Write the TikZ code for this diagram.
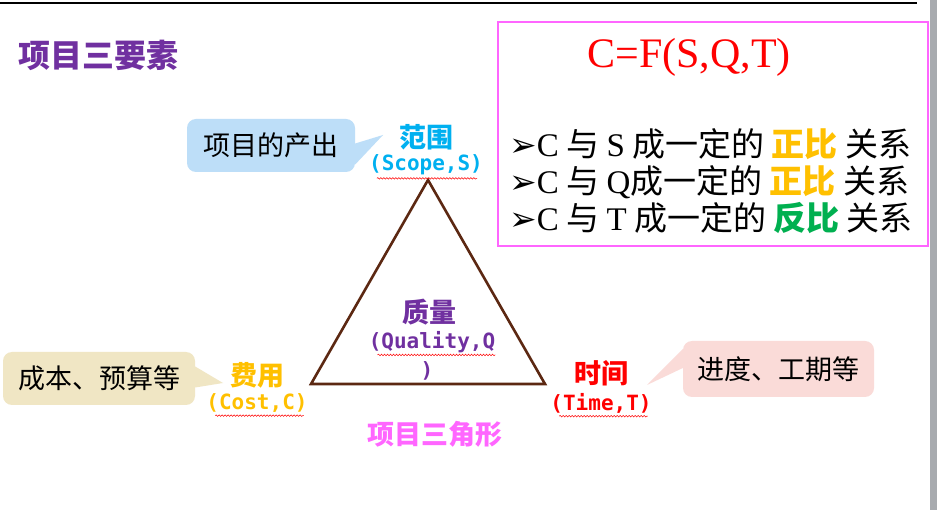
\documentclass[tikz,border=0pt]{standalone}
\usepackage{fontspec}
\setmainfont{Noto Sans CJK SC}
\newfontfamily\tms{Liberation Serif}
\newfontfamily\mono{DejaVu Sans Mono}
\newfontfamily\dejavu{DejaVu Sans}
\usetikzlibrary{positioning,calc,decorations.pathmorphing}
\definecolor{elempurple}{RGB}{112,48,160}
\definecolor{elemcyan}{RGB}{0,176,240}
\definecolor{elemorange}{RGB}{255,192,0}
\definecolor{elemgreen}{RGB}{0,176,80}
\definecolor{elempink}{RGB}{255,102,255}
\definecolor{tribrown}{RGB}{92,40,18}
\definecolor{bubbleblue}{RGB}{189,222,248}
\definecolor{bubblesand}{RGB}{240,230,196}
\definecolor{bubblerose}{RGB}{250,219,216}
\definecolor{scrollgray}{RGB}{168,171,175}

\begin{document}
\begin{tikzpicture}[x=1pt,y=-1pt,
 elem/.style={inner sep=0pt,font=\fontsize{27}{31}\selectfont\bfseries},
 sub/.style={inner sep=0pt,font=\fontsize{21}{24}\mono\bfseries},
 bubble/.style={rounded corners=9pt,inner sep=0pt,minimum height=53pt,
  font=\fontsize{27}{31}\selectfont},
 bullet/.style={anchor=base west,inner sep=0pt,font=\fontsize{33}{37}\selectfont},
 wavy/.style={red,line width=0.5pt,decorate,
  decoration={snake,amplitude=0.8pt,segment length=3pt}}]
 \useasboundingbox (0,0) rectangle (937,510);
 \fill[white] (0,0) rectangle (937,510);
 \fill[scrollgray] (930,0) rectangle (937,510);
 \draw[line width=1.5pt] (0,3) -- (917,3);

 \node[anchor=west,text=elempurple,font=\fontsize{32}{36}\selectfont\bfseries]
  (title) at (15,55) {项目三要素};

 % formula box
 \draw[elempink,line width=2pt] (498,22) rectangle (928,246);
 \node[anchor=base,text=red,inner sep=0pt,font=\fontsize{42}{46}\tms]
  (F) at (689,68) {C=F(S,Q,T)};
 \node[bullet] (r1) at (509,157) {{\dejavu ➢}{\tms C} 与 {\tms S} 成一定的 \textcolor{elemorange}{\bfseries 正比} 关系};
 \node[bullet] (r2) at (509,194) {{\dejavu ➢}{\tms C} 与 {\tms Q}成一定的 \textcolor{elemorange}{\bfseries 正比} 关系};
 \node[bullet] (r3) at (509,231) {{\dejavu ➢}{\tms C} 与 {\tms T} 成一定的 \textcolor{elemgreen}{\bfseries 反比} 关系};

 % triangle
 \coordinate (top) at (428,180);
 \coordinate (bl) at (311,384);
 \coordinate (br) at (545,384);
 \draw[tribrown,line width=2.6pt,line join=miter] (top) -- (bl) -- (br) -- cycle;

 \node[elem,text=elemcyan] (S) at (426,137) {范围};
 \node[sub,text=elemcyan] (Sl) at (426,165) {(Scope,S)};
 \node[elem,text=elempurple] (Q) at (429,312) {质量};
 \node[sub,text=elempurple] (Ql) at (432,342) {(Quality,Q};
 \node[sub,text=elempurple] (Qr) at (427,371) {)};
 \node[elem,text=elemorange] (C) at (257,375) {费用};
 \node[sub,text=elemorange] (Cl) at (257,403) {(Cost,C)};
 \node[elem,text=red] (T) at (601,373) {时间};
 \node[sub,text=red] (Tl) at (601,403) {(Time,T)};
 \node[elem,text=elempink] (name) at (435,434) {项目三角形};

 \draw[wavy] ([xshift=8pt,yshift=-3pt]Sl.south west) -- ([xshift=-6pt,yshift=-3pt]Sl.south east);
 \draw[wavy] ([xshift=9pt,yshift=-2pt]Ql.south west) -- ([yshift=-2pt]Ql.south east);
 \draw[wavy] ([xshift=9pt,yshift=-3pt]Cl.south west) -- ([xshift=-4pt,yshift=-3pt]Cl.south east);
 \draw[wavy] ([xshift=9pt,yshift=-3pt]Tl.south west) -- ([xshift=-4pt,yshift=-3pt]Tl.south east);

 % callouts
 \node[bubble,fill=bubbleblue,minimum width=168pt] (A) at (271,145.5) {项目的产出};
 \fill[bubbleblue] ([yshift=-19pt]A.east) -- (383,135) -- ([yshift=2pt]A.east) -- cycle;
 \node[bubble,fill=bubblesand,minimum width=192pt] (B) at (99,378.5) {成本、预算等};
 \fill[bubblesand] ([yshift=-9pt]B.east) -- (223,383) -- ([yshift=12pt]B.east) -- cycle;
 \node[bubble,fill=bubblerose,minimum width=191pt,minimum height=56pt] (D) at (778.5,369) {进度、工期等};
 \fill[bubblerose] ([yshift=1pt]D.west) -- (647,385) -- ([yshift=20pt]D.west) -- cycle;
\end{tikzpicture}
\end{document}
